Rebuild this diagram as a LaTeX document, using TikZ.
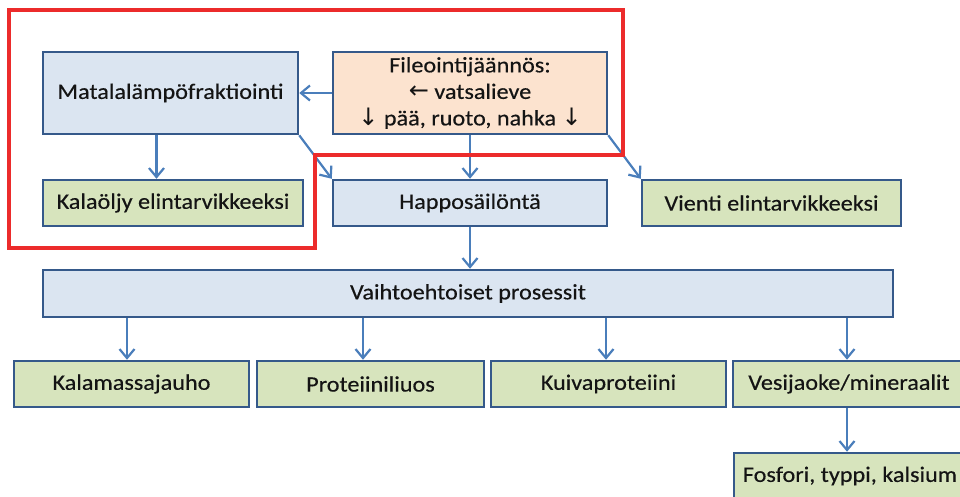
\documentclass[tikz,border=0pt]{standalone}
\usepackage{fontspec}
\setmainfont{Carlito}[FakeStretch=1.1,FakeBold=0.4]
\newfontfamily\nuolifont{DejaVu Sans}
\usepackage{xcolor}
\usetikzlibrary{arrows.meta}

\definecolor{reuna}{HTML}{35598A}
\definecolor{sininen}{HTML}{DBE5F1}
\definecolor{vihrea}{HTML}{D7E4BD}
\definecolor{oranssi}{HTML}{FCE3CF}
\definecolor{nuolivari}{HTML}{4A7EBB}
\definecolor{kehys}{HTML}{EC2B2B}
\definecolor{teksti}{HTML}{141414}

\newcommand{\nuoli}[1]{{\nuolifont\fontsize{24}{24}\selectfont #1}}

\begin{document}
\begin{tikzpicture}[x=1pt,y=-1pt,
    laatikko/.style={draw=reuna,line width=2.5pt,inner sep=0pt,align=center,
      text=teksti,font=\fontsize{22}{26.5}\selectfont},
    vaihe/.style={laatikko,fill=sininen},
    tuote/.style={laatikko,fill=vihrea},
    nuolet/.style={draw=nuolivari,line width=2.2pt,
      -{Straight Barb[length=9pt,width=15pt]}}]
  \useasboundingbox (0,0) rectangle (960,496);

  % Ylärivi
  \node[vaihe,minimum width=255pt,minimum height=82pt] (matala) at (170.5,93)
    {Matalalämpöfraktiointi};
  \node[laatikko,fill=oranssi,minimum width=274pt,minimum height=82pt] (fileointi) at (470,93)
    {Fileointijäännös:\\ \nuoli{←} vatsalieve\\ \nuoli{↓} pää, ruoto, nahka \nuoli{↓}};

  % Toinen rivi
  \node[tuote,minimum width=260pt,minimum height=46pt] (kalaoljy) at (173,203)
    {Kalaöljy elintarvikkeeksi};
  \node[vaihe,minimum width=274pt,minimum height=46pt] (happo) at (470,203)
    {Happosäilöntä};
  \node[tuote,minimum width=259pt,minimum height=46pt] (vienti) at (771.5,203)
    {Vienti elintarvikkeeksi};

  % Prosessit
  \node[vaihe,minimum width=850pt,minimum height=47pt] (vaihto) at (468,293.5)
    {Vaihtoehtoiset prosessit};

  % Tuotteet
  \node[tuote,minimum width=235pt,minimum height=46pt] (kalamassa) at (131.5,384)
    {Kalamassajauho};
  \node[tuote,minimum width=227pt,minimum height=46pt] (proteiini) at (370.5,384)
    {Proteiiniliuos};
  \node[tuote,minimum width=235pt,minimum height=46pt] (kuiva) at (608.5,384)
    {Kuivaproteiini};
  \node[tuote,minimum width=232pt,minimum height=46pt] (vesijaoke) at (849,384)
    {Vesijaoke/mineraalit};
  \node[tuote,minimum width=232pt,minimum height=46pt] (fosfori) at (850,476)
    {Fosfori, typpi, kalsium};

  % Nuolet
  \draw[nuolet] (fileointi.west) -- (matala.east);
  \draw[nuolet] ([xshift=-14pt]matala.south) -- ([xshift=-14pt]matala.south |- kalaoljy.north);
  \draw[nuolet] (matala.south east) -- (happo.north west);
  \draw[nuolet] (fileointi.south) -- (happo.north);
  \draw[nuolet] (fileointi.south east) -- (vienti.north west);
  \draw[nuolet] (happo.south) -- (happo.south |- vaihto.north);
  \draw[nuolet] ([xshift=-4.5pt]kalamassa.north |- vaihto.south) -- ([xshift=-4.5pt]kalamassa.north);
  \draw[nuolet] ([xshift=-7.5pt]proteiini.north |- vaihto.south) -- ([xshift=-7.5pt]proteiini.north);
  \draw[nuolet] ([xshift=-2.5pt]kuiva.north |- vaihto.south) -- ([xshift=-2.5pt]kuiva.north);
  \draw[nuolet] ([xshift=-2pt]vesijaoke.north |- vaihto.south) -- ([xshift=-2pt]vesijaoke.north);
  \draw[nuolet] ([xshift=-2pt]vesijaoke.south) -- ([xshift=-2pt]vesijaoke.south |- fosfori.north);

  % Punainen kehys
  \draw[kehys,line width=4pt] (9,10) -- (623,10) -- (623,155) -- (315,155)
    -- (315,248) -- (9,248) -- cycle;
\end{tikzpicture}
\end{document}
